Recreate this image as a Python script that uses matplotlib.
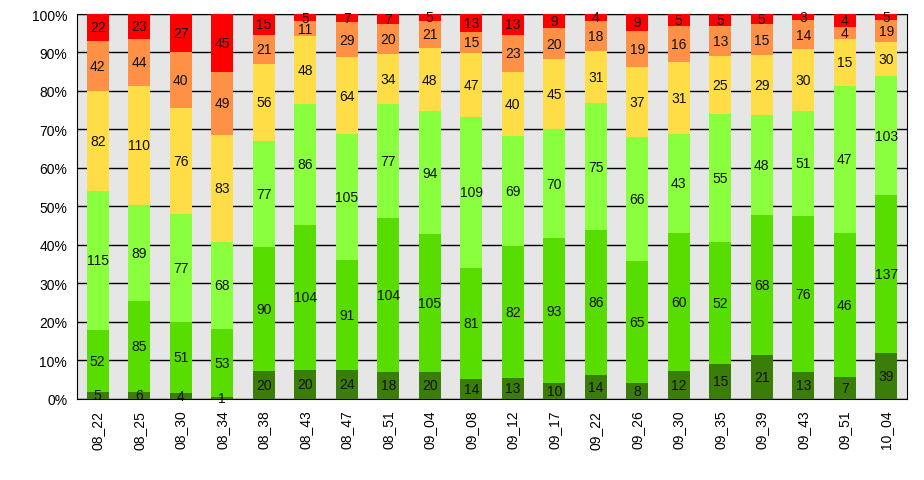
import matplotlib
matplotlib.use('Agg')
import matplotlib.pyplot as plt
import numpy as np
from matplotlib.ticker import PercentFormatter

# Dados do gráfico (contagens por categoria)
labels = ['08_22', '08_25', '08_30', '08_34', '08_38', '08_43', '08_47', '08_51',
          '09_04', '09_08', '09_12', '09_17', '09_22', '09_26', '09_30', '09_35',
          '09_39', '09_43', '09_51', '10_04']

dark_green = [5, 6, 4, 1, 20, 20, 24, 18, 20, 14, 13, 10, 14, 8, 12, 15, 21, 13, 7, 39]
green = [52, 85, 51, 53, 90, 104, 91, 104, 105, 81, 82, 93, 86, 65, 60, 52, 68, 76, 46, 137]
light_green = [115, 89, 77, 68, 77, 86, 105, 77, 94, 109, 69, 70, 75, 66, 43, 55, 48, 51, 47, 103]
yellow = [82, 110, 76, 83, 56, 48, 64, 34, 48, 47, 40, 45, 31, 37, 31, 25, 29, 30, 15, 30]
orange = [42, 44, 40, 49, 21, 11, 29, 20, 21, 15, 23, 20, 18, 19, 16, 13, 15, 14, 4, 19]
red = [22, 23, 27, 45, 15, 5, 7, 7, 5, 13, 13, 9, 4, 9, 5, 5, 5, 3, 4, 5]

series = [dark_green, green, light_green, yellow, orange, red]
colors = ['#3A7D08', '#58DD00', '#8AFF3E', '#FFDD47', '#FF9147', '#FF0000']

plt.rcParams['font.family'] = ['Liberation Sans', 'DejaVu Sans']

fig = plt.figure(figsize=(9.24, 4.81), dpi=100)
ax = fig.add_axes([0.0833, 0.1694, 0.8983, 0.7994])

counts = np.array(series, dtype=float)
totals = counts.sum(axis=0)
pct = counts / totals * 100

x = np.arange(len(labels))
bottom = np.zeros(len(labels))
for vals, perc, col in zip(series, pct, colors):
    bars = ax.bar(x, perc, 0.52, bottom=bottom, color=col, zorder=3)
    for bar, v in zip(bars, vals):
        ax.text(bar.get_x() + bar.get_width() / 2, bar.get_y() + bar.get_height() / 2,
                str(v), ha='center', va='center', fontsize=10, color='#111111', zorder=4)
    bottom += perc

ax.set_facecolor('#E6E6E6')
ax.set_xlim(-0.5, len(labels) - 0.5)
ax.set_ylim(0, 100)
ax.set_yticks(np.arange(0, 101, 10))
ax.yaxis.set_major_formatter(PercentFormatter(decimals=0))
ax.set_xticks(x)
ax.set_xticklabels(labels, rotation=90, fontsize=10)
ax.tick_params(axis='x', length=0, pad=8)
ax.tick_params(axis='y', length=0, pad=7, labelsize=10)
ax.grid(axis='y', color='black', linewidth=1, zorder=1)
for s in ax.spines.values():
    s.set_color('black')

plt.savefig('out.png', dpi=100)
